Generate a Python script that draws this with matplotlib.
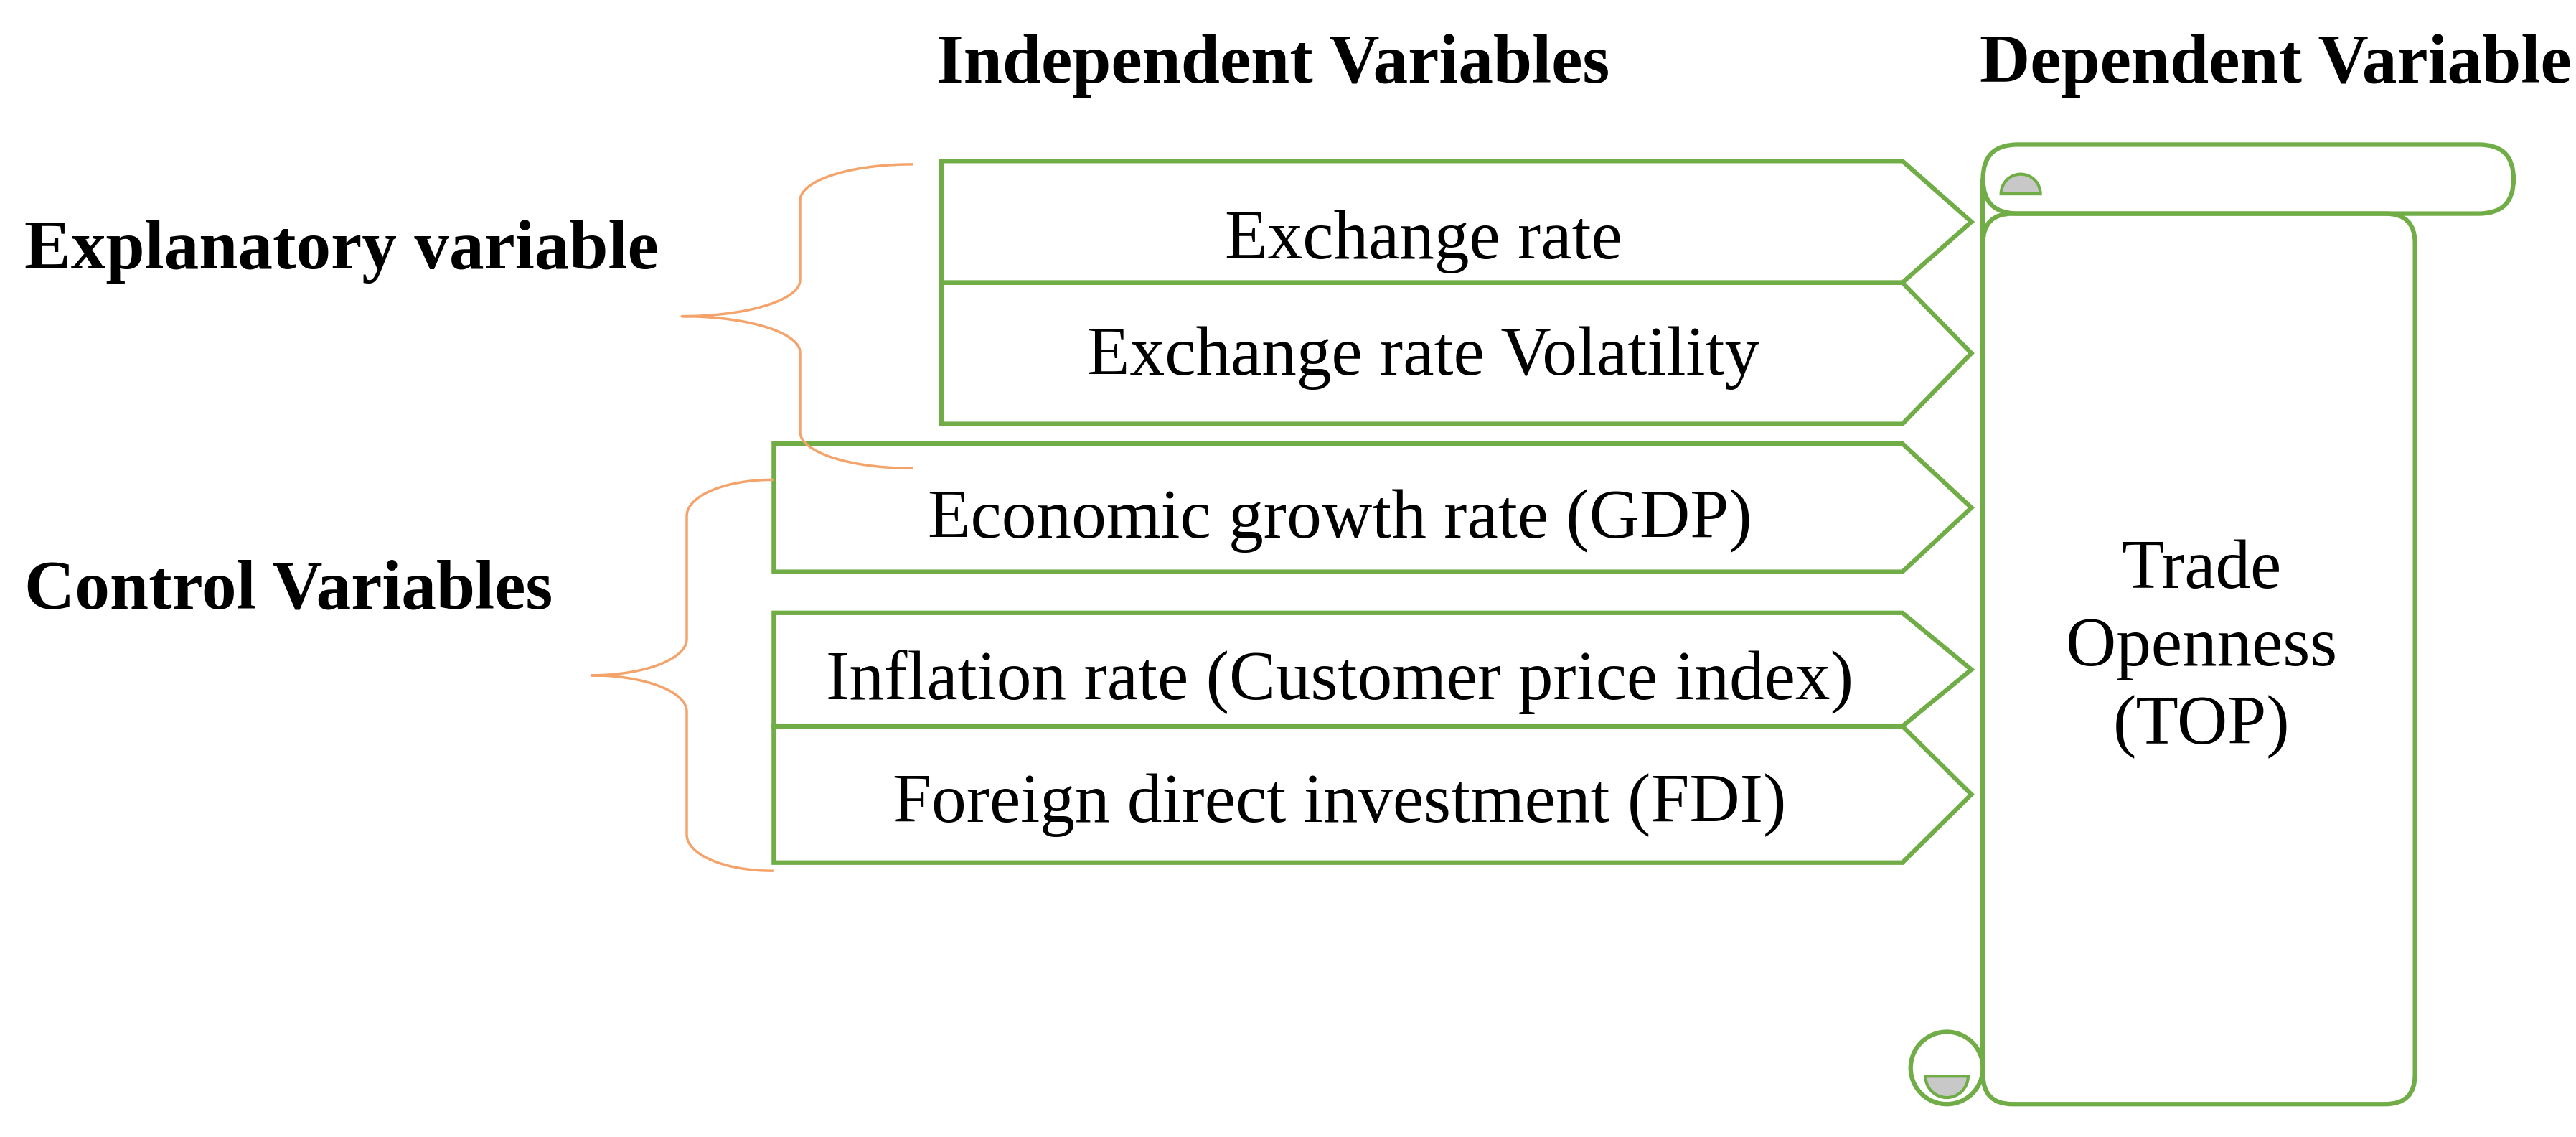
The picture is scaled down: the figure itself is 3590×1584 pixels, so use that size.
import matplotlib
matplotlib.use("Agg")
import matplotlib.pyplot as plt
import numpy as np
from matplotlib.patches import Polygon, FancyBboxPatch, Circle, Wedge

GREEN = "#70AD47"
ORANGE = "#F4A46A"
GREY = "#C8C8C8"

independent_labels = ["Exchange rate", "Exchange rate Volatility",
                      "Economic growth rate (GDP)",
                      "Inflation rate (Customer price index)",
                      "Foreign direct investment (FDI)"]
group_labels = ["Explanatory variable", "Control Variables"]
headers = ["Independent Variables", "Dependent Variable"]
dependent_label = "Trade\nOpenness\n(TOP)"

# box geometry in display units (x0, top, bottom, text y)
boxes = [(573, 98, 172, 147), (573, 172, 258, 218),
         (471, 270, 348, 317), (471, 373, 442, 415), (471, 442, 525, 490)]

FS = 70

plt.rcParams["font.family"] = ["Liberation Serif", "DejaVu Serif"]
fig = plt.figure(figsize=(35.9, 15.84), dpi=100)
ax = fig.add_axes([0, 0, 1, 1])
ax.set_xlim(0, 1568)
ax.set_ylim(692, 0)
ax.axis("off")

lw = 4.5
for (x0, top, bot, ty), lab in zip(boxes, independent_labels):
    mid = (top + bot) / 2
    pts = [(x0, top), (1158, top), (1200, mid), (1158, bot), (x0, bot)]
    ax.add_patch(Polygon(pts, closed=True, fill=False, edgecolor=GREEN, lw=lw))
    ax.text((x0 + 1160) / 2, ty, lab, ha="center", va="center", fontsize=FS)

ax.text(775, 40, headers[0], ha="center", va="center", fontsize=FS, weight="bold")
ax.text(1385, 40, headers[1], ha="center", va="center", fontsize=FS, weight="bold")
ax.text(15, 153, group_labels[0], ha="left", va="center", fontsize=FS, weight="bold")
ax.text(15, 360, group_labels[1], ha="left", va="center", fontsize=FS, weight="bold")


def brace(xt, y0, y1, xv, xc, r=22):
    ym = (y0 + y1) / 2
    t = np.linspace(0, np.pi / 2, 30)
    tr = t[::-1]
    xs, ys = [], []
    xs += list(xt - (xt - xv) * np.sin(t)); ys += list(y0 + r * (1 - np.cos(t)))
    xs += [xv, xv]; ys += [y0 + r, ym - r]
    xs += list(xv - (xv - xc) * (1 - np.cos(t))); ys += list(ym - r + r * np.sin(t))
    xs += list(xv - (xv - xc) * (1 - np.cos(tr))); ys += list(ym + r - r * np.sin(tr))
    xs += [xv, xv]; ys += [ym + r, y1 - r]
    xs += list(xt - (xt - xv) * np.sin(tr)); ys += list(y1 - r * (1 - np.cos(tr)))
    ax.plot(xs, ys, color=ORANGE, lw=2.5)


brace(555, 100, 285, 487, 415)
brace(470, 292, 530, 418, 360)

# scroll
ax.plot([1207, 1207], [110, 640], color=GREEN, lw=lw)
ax.add_patch(FancyBboxPatch((1207, 88), 1530 - 1207, 42,
                            boxstyle="round,pad=0,rounding_size=21",
                            fill=False, edgecolor=GREEN, lw=lw))
ax.add_patch(FancyBboxPatch((1207, 130), 1470 - 1207, 542,
                            boxstyle="round,pad=0,rounding_size=18",
                            fill=False, edgecolor=GREEN, lw=lw))
ax.add_patch(Wedge((1230, 118), 12, 180, 360, facecolor=GREY, edgecolor=GREEN, lw=3))
ax.add_patch(Circle((1185, 650), 22, fill=False, edgecolor=GREEN, lw=lw))
ax.add_patch(Wedge((1185, 655), 13, 0, 180, facecolor=GREY, edgecolor=GREEN, lw=3))
ax.text(1340, 395, dependent_label, ha="center", va="center", fontsize=FS,
        linespacing=1.3)

fig.savefig("out.png", dpi=100)
